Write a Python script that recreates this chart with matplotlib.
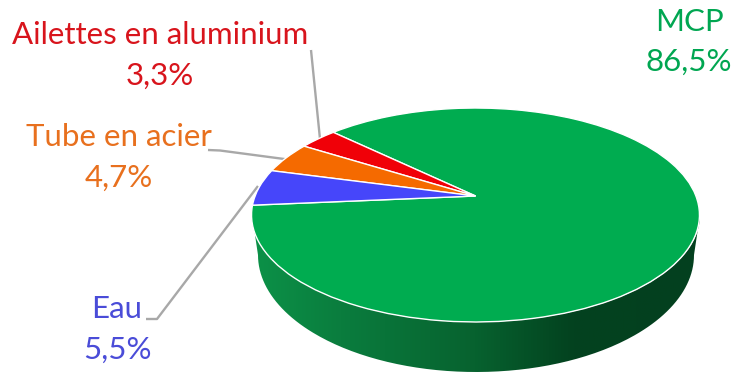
import numpy as np
import matplotlib
matplotlib.use("Agg")
import matplotlib.pyplot as plt
from matplotlib.colors import LinearSegmentedColormap
from matplotlib.patches import PathPatch
from matplotlib.path import Path
from matplotlib.transforms import Transform

categories = ["MCP", "Ailettes en aluminium", "Tube en acier", "Eau"]
values = [86.5, 3.3, 4.7, 5.5]
value_labels = ["86,5%", "3,3%", "4,7%", "5,5%"]
colors = ["#00ac50", "#f00008", "#f56a00", "#4646fa"]
text_colors = ["#00a651", "#d8141c", "#e8701e", "#4a4cd8"]

# pixel geometry of the tilted disc
APEX = (475.5, 196)
A, B, K = 103.6, 220.4, 0.1776


class Tilt(Transform):
    # perspective view of the unit disc, gives pixel coords
    input_dims = output_dims = 2

    def __init__(self, x0, y0, b, a, k):
        super().__init__()
        self.x0, self.y0, self.b, self.a, self.k = x0, y0, b, a, k

    def transform_non_affine(self, xy):
        xy = np.asarray(xy)
        d = 1 + self.k * xy[:, 1]
        return np.column_stack([self.x0 + self.b * xy[:, 0] / d,
                                self.y0 - self.a * xy[:, 1] / d])


fig = plt.figure(figsize=(7.32, 3.74), dpi=100)
ax = fig.add_axes([0, 0, 1, 1])
plt.rcParams["font.family"] = "Lato"

wedges, _ = ax.pie(values, colors=colors, startangle=185, counterclock=True,
                   wedgeprops={"edgecolor": "white", "linewidth": 1.0})
ax.set_aspect("auto")
ax.set_xlim(0, 732)
ax.set_ylim(374, 0)
ax.axis("off")

# side wall, the gradient is clipped to the front band
t = np.linspace(np.pi, 2 * np.pi, 200)
top_x = 476 + 224 * np.cos(t)
top_y = 215 - 107 * np.sin(t)
bot_x = 476 + 218 * np.cos(t)
bot_y = 255 - 117 * np.sin(t)
wall = Path(np.column_stack([np.r_[top_x, bot_x[::-1]], np.r_[top_y, bot_y[::-1]]]))
wall_patch = PathPatch(wall, facecolor="none", edgecolor="none", transform=ax.transData)
ax.add_patch(wall_patch)
wall_cmap = LinearSegmentedColormap.from_list(
    "wall", [(0, "#0c9248"), (0.2, "#0a7d3e"), (0.5, "#07622f"),
             (0.72, "#03421f"), (1, "#04401f")])
grad = ax.imshow(np.linspace(0, 1, 256)[None, :], cmap=wall_cmap, aspect="auto",
                 extent=(250, 700, 374, 200), zorder=1)
grad.set_clip_path(wall_patch)
ax.set_xlim(0, 732)
ax.set_ylim(374, 0)

tilt = Tilt(APEX[0], APEX[1], B, A, K)
for w in wedges:
    w.set_transform(tilt + ax.transData)
    w.set_clip_on(False)
    w.set_zorder(2)

# leader lines
leader = {"color": "#a8a8a8", "lw": 1.7, "zorder": 1.5, "solid_capstyle": "butt"}
ax.plot([311, 320], [50, 139], **leader)
ax.plot([208, 220, 288], [150, 150.5, 159.5], **leader)
ax.plot([146, 157, 258], [319, 319, 186], **leader)

fs = 22.5
ax.text(160, 35, categories[1], color=text_colors[1], fontsize=fs, ha="center", va="center")
ax.text(160, 76, value_labels[1], color=text_colors[1], fontsize=fs, ha="center", va="center")
ax.text(119, 137, categories[2], color=text_colors[2], fontsize=fs, ha="center", va="center")
ax.text(119, 178, value_labels[2], color=text_colors[2], fontsize=fs, ha="center", va="center")
ax.text(117, 309, categories[3], color=text_colors[3], fontsize=fs, ha="center", va="center")
ax.text(117, 350, value_labels[3], color=text_colors[3], fontsize=fs, ha="center", va="center")
ax.text(689, 22, categories[0], color=text_colors[0], fontsize=fs, ha="center", va="center")
ax.text(689, 62, value_labels[0], color=text_colors[0], fontsize=fs, ha="center", va="center")

fig.savefig("out.png", dpi=100)
